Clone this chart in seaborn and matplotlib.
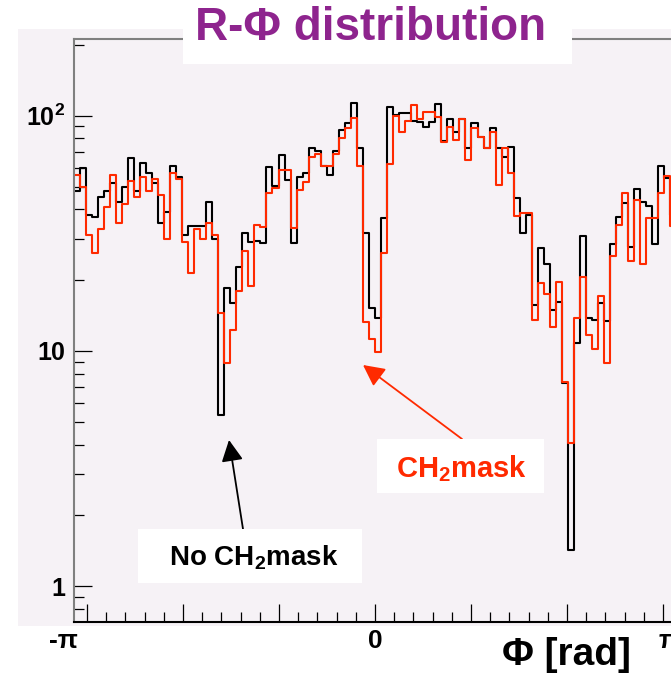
import numpy as np
import pandas as pd
import matplotlib
matplotlib.use("Agg")
import matplotlib.pyplot as plt
from matplotlib.patches import Rectangle
from matplotlib.ticker import FixedLocator, MultipleLocator, LogLocator, NullFormatter, FixedFormatter
import seaborn as sns

sns.set_style("white")
plt.rcParams["font.family"] = ["Liberation Sans", "DejaVu Sans"]
plt.rcParams["mathtext.fontset"] = "custom"
plt.rcParams["mathtext.bf"] = "Liberation Sans:bold"
plt.rcParams["mathtext.rm"] = "Liberation Sans:bold"
plt.rcParams["mathtext.default"] = "bf"
plt.rcParams["text.color"] = "black"

# ---- data (100 bins from -pi to pi) ----
n_bins = 100
no_mask_counts = [
    48, 60, 38, 37, 45, 48, 52, 43, 50, 66,
    48, 63, 57, 52, 35, 39, 61, 55, 31, 34,
    34, 34, 43, 30, 5.35, 18.6, 16, 22.8, 31.6, 29,
    29.2, 28.7, 60.7, 50.3, 68, 53.3, 28.7, 55, 56.9, 72.7,
    71, 61, 56, 71, 87, 93, 113, 73, 31.6, 15.2,
    13.8, 36.8, 108.6, 100.7, 102.4, 102.4, 95, 94.3, 89.8, 94.3,
    111.8, 78, 96.8, 85.5, 96.8, 72.7, 93.4, 81.4, 72.7, 88.4,
    73, 67, 73.8, 44.6, 31.6, 38, 15.7, 27.3, 23.4, 14.9,
    16.2, 7.3, 1.43, 10.8, 30.8, 13.8, 13.6, 16, 13.4, 28.4,
    37.2, 42.4, 27.6, 48.8, 42.8, 41.3, 28.5, 61.3, 54.2, 38,
]
mask_counts = [
    56, 50, 31, 26, 33, 41, 56, 35, 42, 53,
    45, 55, 48, 54, 46, 30, 57, 54, 29, 21.5,
    33, 30, 35, 31, 14.5, 8.9, 12.3, 17.9, 26.6, 18.8,
    34.3, 33.7, 46.8, 49.1, 58.8, 58.8, 33.4, 48.3, 52.4, 67,
    68.8, 61, 61, 68.8, 80, 89, 97.5, 61, 13.3, 11.2,
    9.9, 26, 62.3, 99.7, 85.5, 95.2, 111, 96.8, 104, 104,
    99, 77.5, 89.3, 78.8, 96.8, 64.8, 88.4, 81, 72.7, 85.5,
    50.8, 72.7, 56.9, 37.5, 38.5, 38.5, 13.6, 19.5, 17.5, 12.6,
    19.6, 7.4, 4.05, 13.8, 20.7, 11.7, 10.2, 17.1, 8.9, 25.3,
    34.3, 47.1, 24.2, 43.8, 23.4, 36.6, 36.6, 46.8, 55.4, 34,
]
series_labels = ["No CH$_2$mask", "CH$_2$mask"]
title_text = "R-\u03a6 distribution"
x_label_text = "\u03a6 [rad]"
x_tick_texts = ["-\u03c0", "0", "\u03c0"]
y_tick_values = [1, 10, 100]
y_tick_texts = ["1", "10", "10$^{2}$"]

edges = np.linspace(-np.pi, np.pi, n_bins + 1)
centers = 0.5 * (edges[:-1] + edges[1:])

W, H = 671, 673
PAD = "#f6f2f6"
RED = "#ff2a00"
PURPLE = "#8e248e"

fig = plt.figure(figsize=(W / 100, H / 100), dpi=100)
fig.patch.set_facecolor("white")
fig.add_artist(Rectangle((18 / W, 1 - 625.5 / H), 1.0, (625.5 - 29) / H,
                         transform=fig.transFigure, facecolor=PAD,
                         edgecolor="none", zorder=0))

left, right, top, bottom = 73.5, 676.5, 39.0, 621.5
ax = fig.add_axes([left / W, 1 - bottom / H, (right - left) / W, (bottom - top) / H])
ax.set_facecolor(PAD)

df_black = pd.DataFrame({"phi": centers, "counts": no_mask_counts})
df_red = pd.DataFrame({"phi": centers, "counts": mask_counts})
sns.histplot(data=df_black, x="phi", weights="counts", bins=n_bins,
             binrange=(-np.pi, np.pi), element="step",
             fill=False, color="black", linewidth=1.5, ax=ax)
sns.histplot(data=df_red, x="phi", weights="counts", bins=n_bins,
             binrange=(-np.pi, np.pi), element="step",
             fill=False, color=RED, linewidth=1.5, ax=ax)

ax.set_yscale("log")
ax.set_xlim(-np.pi, np.pi)
ax.set_ylim(0.7086, 211.8)
ax.set_xlabel("")
ax.set_ylabel("")

ax.xaxis.set_major_locator(FixedLocator([-3, -2, -1, 0, 1, 2, 3]))
ax.xaxis.set_minor_locator(MultipleLocator(0.2))
ax.yaxis.set_major_locator(FixedLocator(y_tick_values))
ax.yaxis.set_major_formatter(FixedFormatter(y_tick_texts))
ax.yaxis.set_minor_locator(LogLocator(base=10, subs=np.arange(2, 10) / 1.0, numticks=20))
ax.yaxis.set_minor_formatter(NullFormatter())

ax.tick_params(axis="both", which="major", direction="in", length=13, width=0.9,
               color="black", bottom=True, left=True, top=False, right=False)
ax.tick_params(axis="both", which="minor", direction="in", length=7, width=0.9,
               color="black", bottom=True, left=True, top=False, right=False)
ax.tick_params(axis="x", labelbottom=False)
ax.tick_params(axis="y", which="major", pad=6, labelsize=18, labelcolor="black")
for lab in ax.get_yticklabels():
    lab.set_fontweight("bold")

for side in ["left", "top"]:
    ax.spines[side].set_color("#808080")
    ax.spines[side].set_linewidth(1.5)
ax.spines["bottom"].set_color("black")
ax.spines["bottom"].set_linewidth(1.5)
ax.spines["right"].set_color("#808080")

# custom x labels (-pi, 0, pi) placed in figure pixels
for xpix, txt in zip([63, 375, 669], x_tick_texts):
    fig.text(xpix / W, 1 - 641 / H, txt, ha="center", va="center",
             fontsize=19, fontweight="bold", color="black")

# x-axis title
fig.text(566 / W, 1 - 655 / H, x_label_text, ha="center", va="center",
         fontsize=28, fontweight="bold", color="black")

# title box
fig.add_artist(Rectangle((183 / W, 1 - 64 / H), (572 - 183) / W, 64 / H + 0.01,
                         transform=fig.transFigure, facecolor="white",
                         edgecolor="none", zorder=5))
fig.text(371 / W, 1 - 28 / H, title_text, ha="center", va="center", fontsize=33,
         fontweight="bold", color=PURPLE, zorder=6)

# annotation boxes
fig.add_artist(Rectangle((138 / W, 1 - 583 / H), (362 - 138) / W, (583 - 529) / H,
                         transform=fig.transFigure, facecolor="white",
                         edgecolor="none", zorder=5))
fig.text(254 / W, 1 - 566 / H, series_labels[0], ha="center", va="baseline",
         fontsize=20, fontweight="bold", color="black", zorder=6)

fig.add_artist(Rectangle((377 / W, 1 - 493 / H), (544 - 377) / W, (493 - 439) / H,
                         transform=fig.transFigure, facecolor="white",
                         edgecolor="none", zorder=5))
fig.text(461 / W, 1 - 477 / H, series_labels[1], ha="center", va="baseline",
         fontsize=21, fontweight="bold", color=RED, zorder=6)

# arrows
ax.annotate("", xy=(229 / W, 1 - 440 / H), xytext=(243 / W, 1 - 529 / H),
            xycoords="figure fraction", textcoords="figure fraction",
            arrowprops=dict(arrowstyle="-|>,head_length=0.65,head_width=0.33",
                            mutation_scale=20, color="black", lw=1.3,
                            shrinkA=0, shrinkB=0))
ax.annotate("", xy=(363 / W, 1 - 365 / H), xytext=(462 / W, 1 - 439 / H),
            xycoords="figure fraction", textcoords="figure fraction",
            arrowprops=dict(arrowstyle="-|>,head_length=0.65,head_width=0.33",
                            mutation_scale=20, color=RED, lw=1.3,
                            shrinkA=0, shrinkB=0))

fig.savefig("out.png", dpi=100)
